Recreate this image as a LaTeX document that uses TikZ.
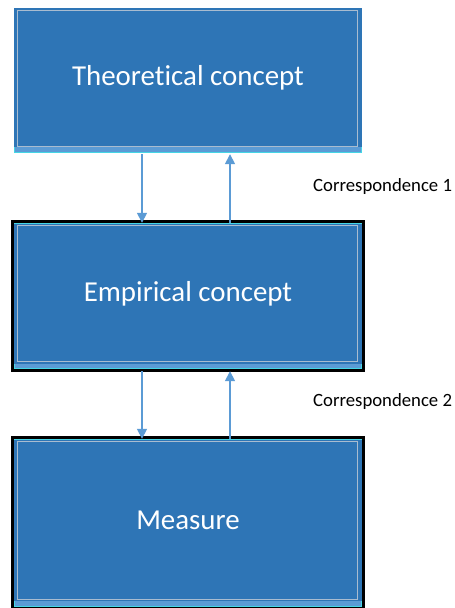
\documentclass[tikz,border=0pt]{standalone}
\usepackage{fontspec}
\setmainfont{Carlito}[RawFeature={-liga}]
\usetikzlibrary{arrows.meta}
\definecolor{boxblue}{HTML}{2E75B6}
\definecolor{lineblue}{HTML}{5B9BD5}
\definecolor{rimgray}{HTML}{A9BCD0}
\definecolor{rimcyan}{HTML}{45D6E6}
\begin{document}
\begin{tikzpicture}[x=1bp,y=-1bp,
  conceptbox/.style={fill=boxblue, draw=none, minimum width=348bp, inner sep=0pt,
    text=white, font=\fontsize{29}{33}\selectfont},
  innerrim/.style={draw=rimgray, line width=1.2bp},
  flow/.style={draw=lineblue, line width=1.6bp, -{Triangle[width=10bp,length=10bp]}},
  corr/.style={anchor=west, inner sep=0pt, font=\fontsize{18.8}{22}\selectfont}]
\useasboundingbox (0,0) rectangle (455,608);

% Theoretical concept
\fill[lineblue] (14,8) rectangle (362,153);
\draw[rimcyan, line width=0.8bp] (14.4,8.4) rectangle (361.6,152.6);
\node[conceptbox, minimum height=139bp] (theo) at (188,77.5) {Theoretical concept};
\draw[innerrim] (17.5,10.5) rectangle (357.5,146.5);

% Empirical concept
\fill[black] (11,220) rectangle (365,372);
\fill[lineblue] (14,223) rectangle (362,369);
\draw[rimcyan, line width=0.8bp] (14.4,223.4) rectangle (361.6,368.6);
\node[conceptbox, minimum height=140bp] (emp) at (188,294) {Empirical concept};
\draw[innerrim] (17.5,225.5) rectangle (357.5,361.5);

% Measure
\fill[black] (11,436) rectangle (365,608);
\fill[lineblue] (14,439) rectangle (362,607);
\draw[rimcyan, line width=0.8bp] (14.4,439.4) rectangle (361.6,606.6);
\node[conceptbox, minimum height=161bp] (meas) at (188,520.5) {Measure};
\draw[innerrim] (17.5,441.5) rectangle (357.5,599.5);

% Connectors
\draw[flow] ([xshift=-46bp,yshift=-7bp]theo.south) -- ([xshift=-46bp,yshift=1bp]emp.north);
\draw[flow] ([xshift=42bp,yshift=1bp]emp.north) -- ([xshift=42bp,yshift=-7bp]theo.south);
\draw[flow] ([xshift=-46bp,yshift=-7bp]emp.south) -- ([xshift=-46bp,yshift=1bp]meas.north);
\draw[flow] ([xshift=42bp,yshift=1bp]meas.north) -- ([xshift=42bp,yshift=-7bp]emp.south);

% Labels
\node[corr] (c1) at (313,187) {Correspondence 1};
\node[corr] (c2) at (313,402) {Correspondence 2};
\end{tikzpicture}
\end{document}
